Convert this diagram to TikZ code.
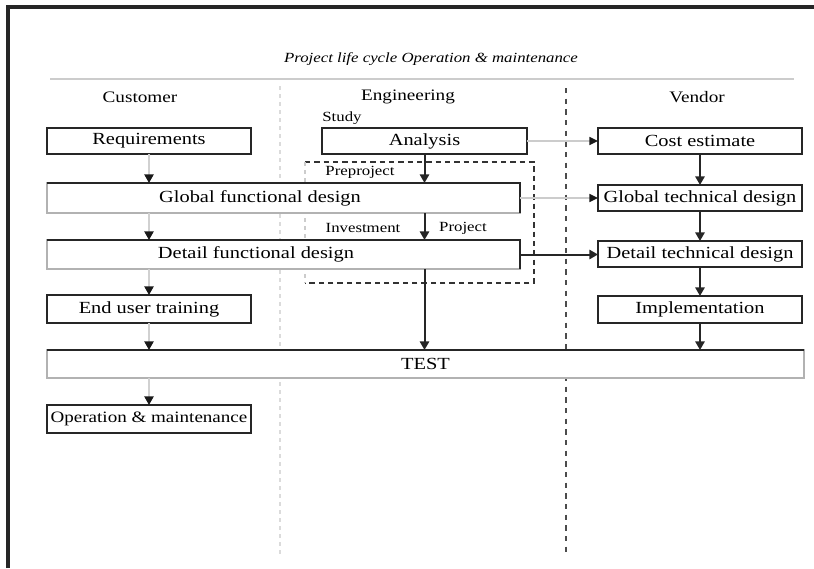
\documentclass[tikz,border=0pt]{standalone}
\usepackage{fontspec}
\setmainfont[FakeStretch=1.2]{Liberation Serif}
\usetikzlibrary{arrows.meta}
\begin{document}
\begin{tikzpicture}[x=0.75pt,y=-0.75pt,
  boxtext/.style={font=\fontsize{12.75pt}{14pt}\selectfont},
  small/.style={font=\fontsize{10.5pt}{12pt}\selectfont},
  stage/.style 2 args={draw=black!85, line width=1.4pt, fill=white, inner sep=0pt,
    outer sep=0pt, minimum width=#1*0.75pt, minimum height=#2*0.75pt, boxtext},
  wide/.style 2 args={draw=black!30, line width=1.1pt, fill=white, inner sep=0pt,
    outer sep=0pt, minimum width=#1*0.75pt, minimum height=#2*0.75pt, boxtext},
  rim/.style={draw=black!85, line width=1.6pt},
  flow/.style={line width=1.5pt, draw=black!85, -{Triangle[width=7pt,length=6.5pt]}},
  faint/.style={line width=1.1pt, draw=black!18, -{Triangle[width=7pt,length=6.5pt,color=black!90]}},
  side/.style={line width=1.1pt, draw=black!20, -{Triangle[width=6pt,length=6.5pt,color=black!90]}},
]
\useasboundingbox (0,0) rectangle (814,568);

% frame
\draw[line width=2.8pt, black!85] (8,568) -- (8,7) -- (814,7);

% title and rule
\node (title) at (431,59) {\fontsize{10.5pt}{12pt}\selectfont\itshape Project life cycle Operation \& maintenance};
\draw[line width=1.6pt, black!20] (50,79) -- (794,79);

% column headers
\node[font=\fontsize{12pt}{14pt}\selectfont] (hcust) at (140,97) {Customer};
\node[font=\fontsize{12pt}{14pt}\selectfont] (heng) at (408,97) {Engineering};
\node[font=\fontsize{12pt}{14pt}\selectfont] (hvend) at (697,97) {Vendor};

% column dividers
\draw[line width=1.6pt, black!14, dash pattern=on 3pt off 3pt] (280,86) -- (280,556);
\draw[line width=1.4pt, black!70, dash pattern=on 4pt off 4pt] (566,88) -- (566,553);

% pre-project frame
\draw[line width=1.3pt, black!80, dash pattern=on 4pt off 3pt] (305,162) -- (534,162) -- (534,283) -- (305,283);
\draw[line width=1.1pt, black!20, dash pattern=on 3pt off 3pt] (305,162) -- (305,283);

% customer column
\node[stage={204}{26}] (req) at (149,141) {Requirements};
\node[wide={473}{30}] (gfd) at (283.5,198) {};
\node[boxtext] (gfdt) at (260,198) {Global functional design};
\node[wide={473}{29}] (dfd) at (283.5,254.5) {};
\node[boxtext] (dfdt) at (256,254.5) {Detail functional design};
\node[stage={204}{28}] (eut) at (149,309) {End user training};
\node[wide={757}{28}] (test) at (425.5,364) {TEST};
\node[stage={204}{28}, font=\fontsize{11.9pt}{14pt}\selectfont] (om) at (149,419) {Operation \& maintenance};

\draw[rim] (gfd.north west) -- (gfd.north east) -- (gfd.south east);
\draw[rim] (dfd.north west) -- (dfd.north east) -- (dfd.south east);
\draw[rim] (test.north west) -- (test.north east);

% engineering column
\node[stage={205}{26}] (ana) at (424.5,141) {Analysis};
\node[small] (study) at (342,118) {Study};
\node[small] (pre) at (360,172) {Preproject};
\node[small] (inv) at (363,228) {Investment};
\node[small] (proj) at (463,228) {Project};

% vendor column
\node[stage={204}{26}] (cost) at (700,141) {Cost estimate};
\node[stage={204}{26}] (gtd) at (700,198) {Global technical design};
\node[stage={204}{26}] (dtd) at (700,254) {Detail technical design};
\node[stage={204}{27}] (imp) at (700,309.5) {Implementation};

% customer flow
\draw[faint] (req.south) -- (req.south |- gfd.north);
\draw[faint] (req.south |- gfd.south) -- (req.south |- dfd.north);
\draw[faint] (req.south |- dfd.south) -- (eut.north);
\draw[faint] (eut.south) -- (eut.south |- test.north);
\draw[faint] (eut.south |- test.south) -- (om.north);

% engineering flow
\draw[flow] (ana.south) -- (ana.south |- gfd.north);
\draw[flow] (ana.south |- gfd.south) -- (ana.south |- dfd.north);
\draw[flow] (ana.south |- dfd.south) -- (ana.south |- test.north);

% hand-over to the vendor
\draw[side] (ana.east) -- (cost.west);
\draw[side] (gfd.east) -- (gfd.east -| gtd.west);
\draw[flow] (dfd.east) -- (dfd.east -| dtd.west);

% vendor flow
\draw[flow] (cost.south) -- (gtd.north);
\draw[flow] (gtd.south) -- (dtd.north);
\draw[flow] (dtd.south) -- (imp.north);
\draw[flow] (imp.south) -- (imp.south |- test.north);
\end{tikzpicture}
\end{document}
